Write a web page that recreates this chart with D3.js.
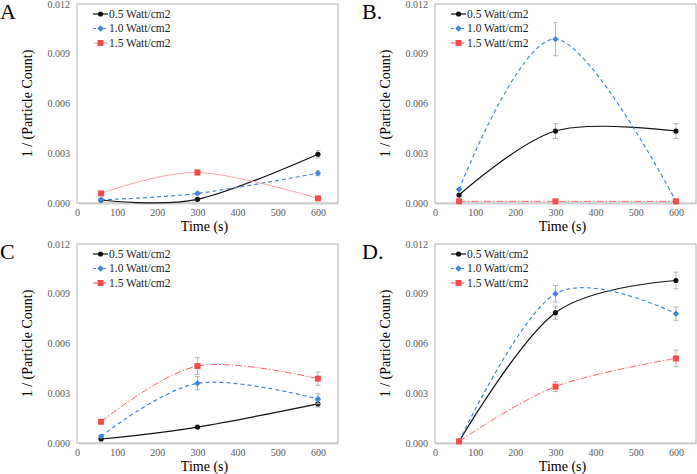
<!DOCTYPE html>
<meta charset="utf-8">
<script src="https://d3js.org/d3.v7.min.js"></script>
<style>
  body { margin: 0; background: #fff; }
  svg text { font-family: "Liberation Serif", "DejaVu Serif", "Noto Serif", "Times New Roman", serif !important; }
</style>
<div id="chart"></div>
<script>
// shared values
const times = [60, 300, 600];
const seriesNames = ["0.5 Watt/cm2", "1.0 Watt/cm2", "1.5 Watt/cm2"];
const xTicks = [0, 100, 200, 300, 400, 500, 600];
const yTicks = [0, 0.003, 0.006, 0.009, 0.012];
const panelLabels = ["A", "B.", "C", "D."];

// panel A
const a05 = [0.00018, 0.00022, 0.00294], a05err = [0.00004, 0.00004, 0.00022];
const a10 = [0.0002, 0.00058, 0.0018],  a10err = [0.00004, 0.00008, 0.00015];
const a15 = [0.00058, 0.00184, 0.00028], a15err = [0.00004, 0.00015, 0.00004];
// panel B
const b05 = [0.00048, 0.00434, 0.00434], b05err = [0.00004, 0.00045, 0.00045];
const b10 = [0.00082, 0.00988, 0.0001],  b10err = [0.00004, 0.001, 0.00004];
const b15 = [0.0001, 0.0001, 0.0001],    b15err = [0.00002, 0.00002, 0.00002];
// panel C
const c05 = [0.00024, 0.00096, 0.00236], c05err = [0.00003, 0.00005, 0.0002];
const c10 = [0.0004, 0.0036, 0.00266],   c10err = [0.00004, 0.0004, 0.0003];
const c15 = [0.00128, 0.00464, 0.00388], c15err = [0.00005, 0.0005, 0.0004];
// panel D
const d05 = [0.0001, 0.00786, 0.0098],  d05err = [0.00003, 0.0004, 0.0005];
const d10 = [0.0001, 0.009, 0.0078],    d10err = [0.00003, 0.0005, 0.0004];
const d15 = [0.0001, 0.0034, 0.0051],   d15err = [0.00003, 0.0003, 0.0005];

const panels = [
  {vals: [a05, a10, a15], errs: [a05err, a10err, a15err], left: 77, top: 4, bottom: 203, redSolid: true},
  {vals: [b05, b10, b15], errs: [b05err, b10err, b15err], left: 435, top: 4, bottom: 203},
  {vals: [c05, c10, c15], errs: [c05err, c10err, c15err], left: 77, top: 244, bottom: 443},
  {vals: [d05, d10, d15], errs: [d05err, d10err, d15err], left: 435, top: 244, bottom: 443}
];

const styles = [
  {color: "#111", dash: null, width: 1.2, marker: "circle"},
  {color: "#3f86d6", dash: "4,3", width: 1.2, marker: "diamond"},
  {color: "#f24b4b", dash: "7,2,1.5,2", width: 1, marker: "square"}
];

const svg = d3.select("#chart").append("svg")
  .attr("width", 697).attr("height", 474)
  .attr("font-family", "'Liberation Serif', serif");

const plotW = 261;

panels.forEach((p, pi) => {
  const g = svg.append("g");
  const x = d3.scaleLinear().domain([0, 650]).range([p.left, p.left + plotW]);
  const y = d3.scaleLinear().domain([0, 0.012]).range([p.bottom, p.top]);

  // plot frame
  g.append("rect")
    .attr("x", x(0)).attr("y", y(0.012))
    .attr("width", x(650) - x(0)).attr("height", y(0) - y(0.012))
    .attr("fill", "none").attr("stroke", "#b0b0b0").attr("stroke-width", 1);

  // x axis
  const xAxis = g.append("g")
    .attr("transform", `translate(0,${y(0)})`)
    .call(d3.axisBottom(x).tickValues(xTicks).tickSize(0).tickPadding(6));
  xAxis.attr("font-family", null);
  xAxis.select(".domain").attr("stroke", "#d0d0d0").attr("stroke-width", 2);
  xAxis.selectAll("text").attr("fill", "#595959").style("font-size", "10px");

  // y axis
  const yAxis = g.append("g")
    .attr("transform", `translate(${x(0)},0)`)
    .call(d3.axisLeft(y).tickValues(yTicks).tickFormat(d3.format(".3f")).tickSize(0).tickPadding(7));
  yAxis.attr("font-family", null);
  yAxis.select(".domain").remove();
  yAxis.selectAll("text").attr("fill", "#595959").style("font-size", "10px");

  // axis titles
  g.append("text")
    .attr("x", x(325) - 3).attr("y", y(0) + 28)
    .attr("text-anchor", "middle").style("font-size", "14px").text("Time (s)");
  g.append("text")
    .attr("transform", `translate(${x(0) - 45},${(y(0) + y(0.012)) / 2}) rotate(-90)`)
    .attr("text-anchor", "middle").style("font-size", "14px").text("1 / (Particle Count)");

  // panel letter
  g.append("text")
    .attr("x", pi % 2 === 0 ? 0 : 362).attr("y", p.top + 15)
    .style("font-size", "22px").text(panelLabels[pi]);

  const line = d3.line()
    .x((d, i) => x(times[i]))
    .y(d => y(d))
    .curve(d3.curveCardinal.tension(0));

  p.vals.forEach((vals, si) => {
    const st = styles[si];
    const solidRed = si === 2 && p.redSolid;

    // error bars
    const eg = g.append("g").attr("stroke", "#b5b5b5").attr("stroke-width", 1);
    vals.forEach((v, i) => {
      const e = p.errs[si][i];
      const cx = x(times[i]);
      eg.append("line").attr("x1", cx).attr("x2", cx).attr("y1", y(v - e)).attr("y2", y(v + e));
      eg.append("line").attr("x1", cx - 2.5).attr("x2", cx + 2.5).attr("y1", y(v - e)).attr("y2", y(v - e));
      eg.append("line").attr("x1", cx - 2.5).attr("x2", cx + 2.5).attr("y1", y(v + e)).attr("y2", y(v + e));
    });

    g.append("path")
      .datum(vals)
      .attr("d", line)
      .attr("fill", "none")
      .attr("stroke", solidRed ? "#f7a5a5" : st.color)
      .attr("stroke-width", solidRed ? 1 : st.width)
      .attr("stroke-dasharray", solidRed ? null : st.dash)
      .attr("opacity", si === 2 && !solidRed ? 0.85 : 1);

    vals.forEach((v, i) => {
      drawMarker(g, st.marker, x(times[i]), y(v), st.color);
    });
  });

  // legend
  seriesNames.forEach((name, si) => {
    const st = styles[si];
    const lx = p.left + 16, ly = p.top + 10 + si * 14.5;
    const solidRed = si === 2 && p.redSolid;
    g.append("line")
      .attr("x1", lx).attr("x2", lx + 15).attr("y1", ly).attr("y2", ly)
      .attr("stroke", solidRed ? "#f7a5a5" : st.color)
      .attr("stroke-width", solidRed ? 1 : st.width)
      .attr("stroke-dasharray", si === 1 ? "3,2" : (si === 2 && !solidRed ? "4,2,1,2" : null));
    drawMarker(g, st.marker, lx + 7.5, ly, st.color);
    g.append("text")
      .attr("x", lx + 16).attr("y", ly + 3.8)
      .style("font-size", "11.5px").attr("fill", "#222").text(name);
  });
});

function drawMarker(g, type, cx, cy, color) {
  if (type === "circle") {
    g.append("circle").attr("cx", cx).attr("cy", cy).attr("r", 2.6).attr("fill", color);
  } else if (type === "diamond") {
    g.append("path")
      .attr("d", `M${cx},${cy - 3.2}L${cx + 3.2},${cy}L${cx},${cy + 3.2}L${cx - 3.2},${cy}Z`)
      .attr("fill", color);
  } else {
    g.append("rect").attr("x", cx - 3).attr("y", cy - 3).attr("width", 6).attr("height", 6)
      .attr("fill", color);
  }
}
</script>
